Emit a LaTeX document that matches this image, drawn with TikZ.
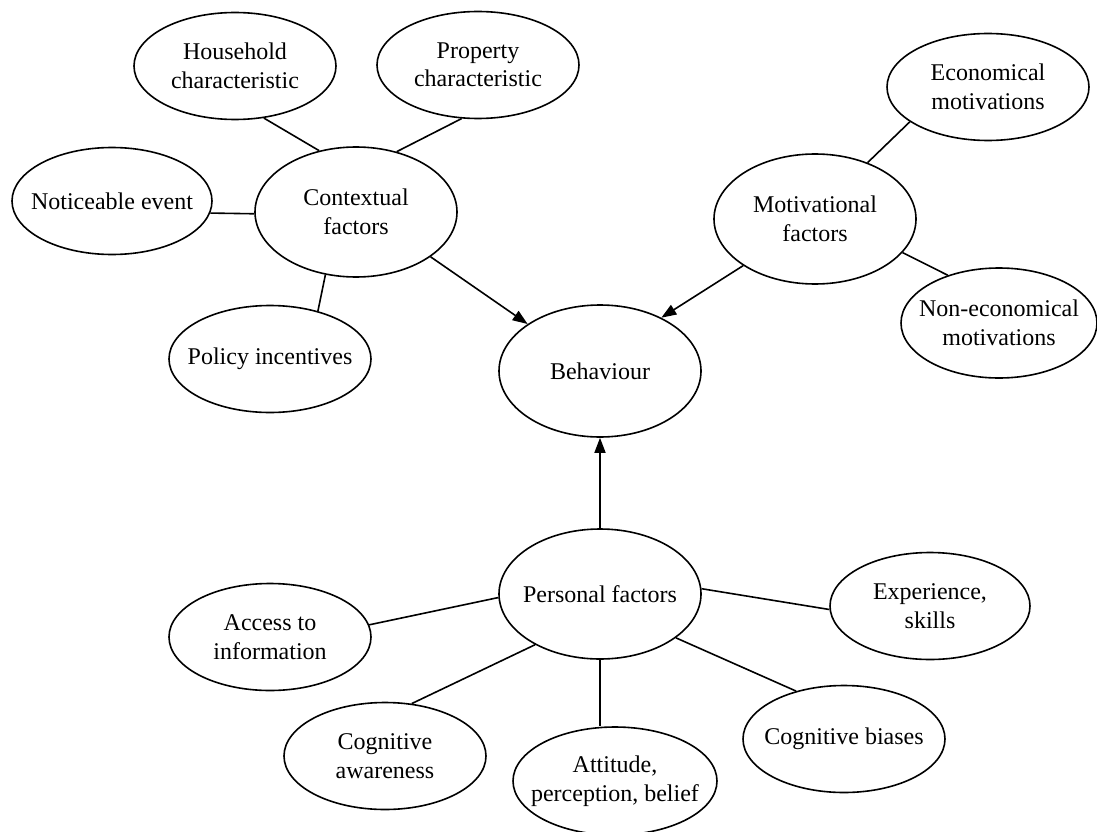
\documentclass[tikz,border=0pt]{standalone}
\usepackage{fontspec}
\setmainfont{Liberation Serif}
\usetikzlibrary{shapes.geometric,arrows.meta}

\begin{document}
\begin{tikzpicture}[x=1pt,y=-1pt,
    factor/.style={ellipse,draw,line width=1.6pt,align=center,
      inner xsep=-15pt,inner ysep=0pt,
      minimum width=202pt,minimum height=107pt,
      font=\fontsize{24}{28.5}\selectfont},
    hub/.style={factor,minimum height=130pt},
    link/.style={line width=1.6pt}]
  \useasboundingbox (0,0) rectangle (1097,832);

  % contextual side
  \node[hub,name=ctx] at (356,212) {Contextual\\factors};
  \node[factor,name=hh] at (235,66) {Household\\characteristic};
  \node[factor,name=prop] at (478,65) {Property\\characteristic};
  \node[factor,name=note,minimum width=200pt] at (112,201) {Noticeable event};
  \node[factor,name=pol] at (270,359) {Policy incentives};

  % motivational side
  \node[hub,name=mot] at (815,219) {Motivational\\factors};
  \node[factor,name=eco] at (988,87) {Economical\\motivations};
  \node[factor,name=neco,minimum width=196pt,minimum height=110pt] at (999,323) {Non-economical\\motivations};

  \node[hub,name=beh,minimum height=132pt] at (600,371) {Behaviour};

  % personal side
  \node[hub,name=pers] at (600,594) {Personal factors};
  \node[factor,name=acc] at (270,637) {Access to\\information};
  \node[factor,name=exp,minimum width=200pt] at (930,606) {Experience,\\skills};
  \node[factor,name=aware] at (385,756) {Cognitive\\awareness};
  \node[factor,name=att,minimum width=204pt,minimum height=108pt] at (615,781) {Attitude,\\perception, belief};
  \node[factor,name=bias] at (844,739) {Cognitive biases};

  \draw[link] (hh.-61) -- (ctx.121);
  \draw[link] (prop.253) -- (ctx.56);
  \draw[link] (note.-7) -- (ctx.181);
  \draw[link] (ctx.244) -- (pol.45);
  \draw[link] (mot.47) -- (eco.204);
  \draw[link] (mot.-21) -- (neco.137);
  \draw[link] (pers.182) -- (acc.7);
  \draw[link] (pers.218) -- (aware.63);
  \draw[link] (pers.3) -- (exp.182);
  \draw[link] (pers.-30) -- (bias.135);
  \draw[link] (pers.south) -- (pers.south |- att.north);

  \begin{scope}[link,-{Triangle[length=15pt,width=11pt]}]
    \draw (ctx.-31) -- (beh.147);
    \draw (mot.213) -- (beh.41);
    \draw (pers.north) -- (beh.south);
  \end{scope}

\end{tikzpicture}
\end{document}
